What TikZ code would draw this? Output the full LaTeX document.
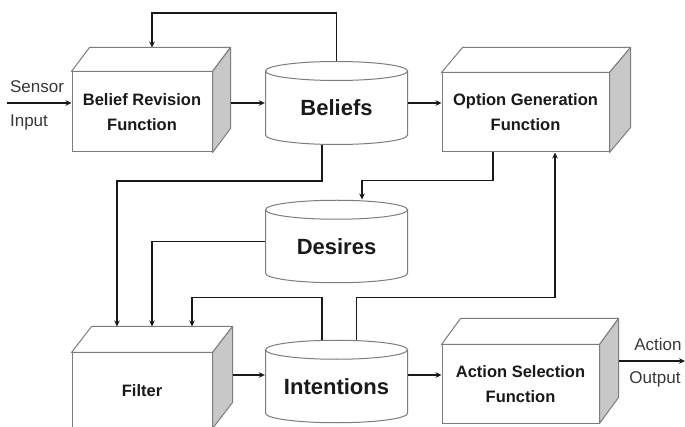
\documentclass[tikz,border=0pt]{standalone}
\usepackage{fontspec}
\setmainfont{Liberation Sans}
\usetikzlibrary{arrows.meta,calc}

\definecolor{edge}{RGB}{125,125,125}
\definecolor{side}{RGB}{200,200,200}
\definecolor{ink}{RGB}{25,25,25}

\tikzset{
  unit/.style={rectangle, draw=edge, fill=white, line width=1pt, inner sep=0pt,
    align=center, text=ink, font=\bfseries\fontsize{16.5}{25}\selectfont},
  face/.style={draw=edge, line width=1pt, line join=round},
  store/.style={rectangle, inner sep=0pt, minimum width=143pt, minimum height=83.5pt,
    text height=26pt, text depth=0pt, text=ink,
    font=\bfseries\fontsize{22}{26}\selectfont,
    path picture={
      \draw[edge, line width=1pt, fill=white]
        ([shift={(0.5pt,-10pt)}]path picture bounding box.north west)
          -- ([shift={(0.5pt,10pt)}]path picture bounding box.south west)
          arc [start angle=180, end angle=360, x radius=71pt, y radius=9.5pt]
          -- ([shift={(-0.5pt,-10pt)}]path picture bounding box.north east);
      \draw[edge, line width=1pt]
        ([yshift=-10pt]path picture bounding box.north) ellipse [x radius=71pt, y radius=9.5pt];
    }},
  flow/.style={draw=ink, line width=1.8pt, -{Stealth[length=6pt,width=5.5pt]}},
  tag/.style={text=black!78, font=\fontsize{17}{20}\selectfont}
}

\begin{document}
\begin{tikzpicture}[x=1pt, y=-1pt]
  % Canvas
  \fill[white] (0,0) rectangle (685,427);
  \useasboundingbox (0,0) rectangle (685,427);

  % Function boxes
  \node[unit, minimum width=140pt, minimum height=80pt] (brf) at (142,112) {Belief Revision\\Function};
  \node[unit, minimum width=167pt, minimum height=79pt] (ogf) at (525.5,112.5) {Option Generation\\Function};
  \node[unit, minimum width=140pt, minimum height=75pt] (filt) at (142,390.5) {Filter};
  \node[unit, minimum width=157pt, minimum height=78pt] (asf) at (520.5,384) {Action Selection\\Function};
  \foreach \n/\dx/\dy in {brf/18/-24, ogf/21/-25, filt/20/-26, asf/19/-26}{
    \draw[face, fill=white] (\n.north west) -- ++(\dx,\dy) -- ($(\n.north east)+(\dx,\dy)$) -- (\n.north east) -- cycle;
    \draw[face, fill=side] (\n.north east) -- ++(\dx,\dy) -- ($(\n.south east)+(\dx,\dy)$) -- (\n.south east) -- cycle;
  }

  % Stores
  \node[store, minimum height=84pt] (bel) at (336.5,103) {Beliefs};
  \node[store] (des) at (336.5,241.5) {Desires};
  \node[store] (int) at (336.5,381.5) {Intentions};

  % Input and output
  \coordinate (sin) at (7,103);
  \coordinate (aout) at (685,361);
  \node[tag] (sensor) at (37,87) {Sensor};
  \node[tag] (input) at (29,122) {Input};
  \node[tag] (action) at (658,344.5) {Action};
  \node[tag] (output) at (655,379) {Output};

  % Flows
  \draw[flow] (sin) -- (sin -| brf.west);
  \draw[flow] ($(brf.east)+(18,-9)$) -- (bel.west);
  \draw[flow] (bel.east) -- (bel.east -| ogf.west);
  \draw[flow] (bel.north) -- ++(0,-48) -| ([xshift=10pt,yshift=24pt]brf.north);
  \draw[flow] ([xshift=-14.5pt]bel.south) -- ++(0,36) -| ([xshift=-25pt,yshift=26pt]filt.north);
  \draw[flow] ([xshift=-32.5pt]ogf.south) -- ++(0,28) -| ([xshift=25.5pt]des.north);
  \draw[flow] (des.west) -| ([xshift=10pt,yshift=26pt]filt.north);
  \draw[flow] ([xshift=-14.5pt]int.north) -- ++(0,-42) -| ([xshift=50pt,yshift=26pt]filt.north);
  \draw[flow] ([xshift=20pt]int.north) -- ++(0,-42) -| ([xshift=29.5pt]ogf.south);
  \draw[flow] ($(filt.east)+(20,-15.5)$) -- ([yshift=6.5pt]int.west);
  \draw[flow] ([yshift=6.5pt]int.east) -- ([yshift=9pt]asf.west);
  \draw[flow] ($(asf.east)+(19,-23)$) -- (aout);
\end{tikzpicture}
\end{document}
